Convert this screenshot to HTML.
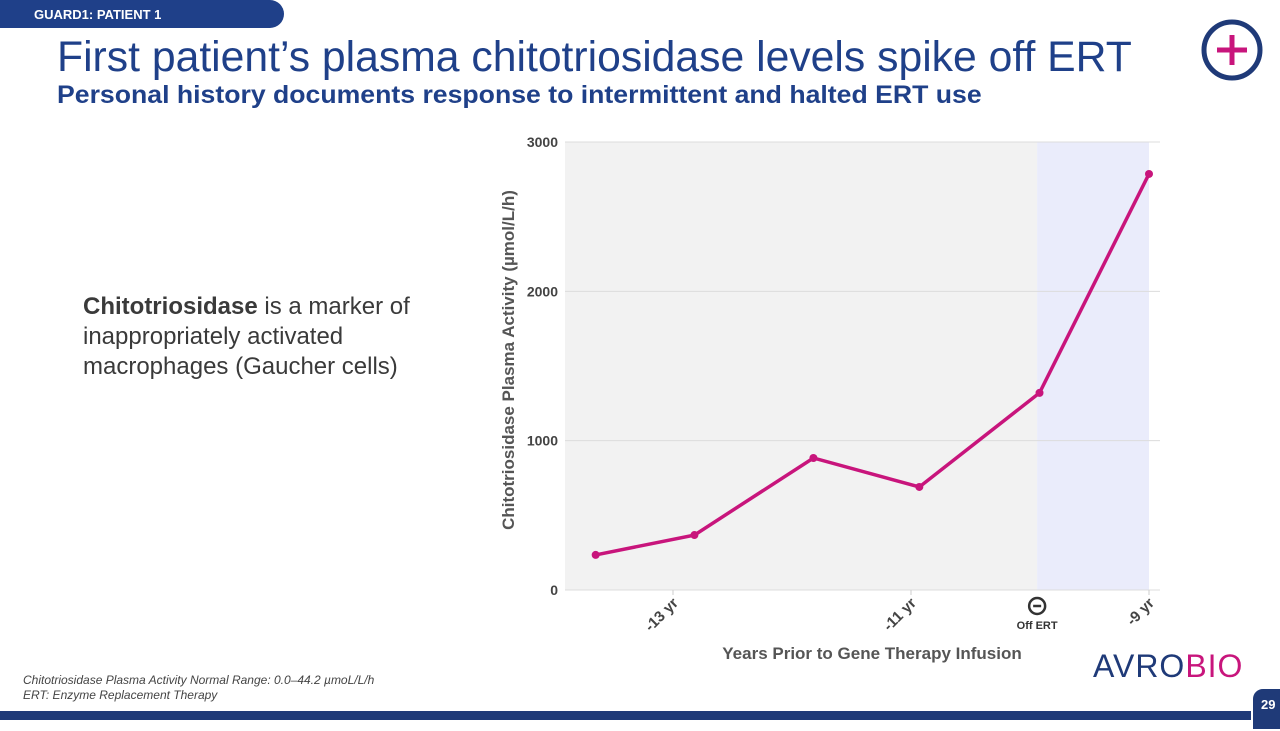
<!DOCTYPE html>
<html><head><meta charset="utf-8">
<style>
body{margin:0;width:1280px;height:720px;overflow:hidden;background:#fff;font-family:"Liberation Sans",Arial,sans-serif;position:relative}
.abs{position:absolute}
</style></head>
<body>
<div class="abs" style="left:0;top:0;width:284px;height:28px;background:#1f4089;border-radius:0 14px 14px 0;"></div>
<div class="abs" style="left:34px;top:7px;color:#fff;font-weight:bold;font-size:13px;">GUARD1: PATIENT 1</div>
<div class="abs" style="left:57px;top:33px;color:#1f4089;font-size:42.7px;white-space:nowrap;">First patient’s plasma chitotriosidase levels spike off ERT</div>
<div class="abs" style="left:57px;top:81px;color:#1f4089;font-size:25px;font-weight:bold;white-space:nowrap;transform:scaleX(1.065);transform-origin:left;">Personal history documents response to intermittent and halted ERT use</div>
<svg class="abs" style="left:1200px;top:18px" width="64" height="64"><circle cx="32" cy="32" r="28" fill="none" stroke="#1f3a78" stroke-width="5"/><path d="M32 17v30M17 32h30" stroke="#c8157c" stroke-width="5"/></svg>
<div class="abs" style="left:83px;top:292px;width:370px;color:#3a3a3a;font-size:24px;line-height:30px;"><b>Chitotriosidase</b> is a marker of inappropriately activated macrophages (Gaucher cells)</div>
<svg class="abs" id="chart" style="left:0;top:0" width="1280" height="720"></svg>
<div class="abs" style="left:23px;top:673px;color:#444;font-size:12px;font-style:italic;line-height:15px;">Chitotriosidase Plasma Activity Normal Range: 0.0–44.2 µmoL/L/h<br>ERT: Enzyme Replacement Therapy</div>
<div class="abs" style="left:1093px;top:648px;font-size:32px;letter-spacing:1px;"><span style="color:#1f3a78">AVRO</span><span style="color:#c8157c">BIO</span></div>
<div class="abs" style="left:0;top:711px;width:1280px;height:9px;background:#1f3a78;"></div>
<div class="abs" style="left:1251px;top:687px;width:36px;height:40px;border-radius:12px 0 0 0;background:#1f3a78;border:2px solid #fff;color:#fff;font-weight:bold;font-size:13px;"><span style="position:absolute;left:8px;top:8px">29</span></div>
<script>
const years=[-13.65,-12.82,-11.82,-10.93,-9.92,-9.0];
const values=[235,368,884,690,1320,2786];
const yTicks=[0,1000,2000,3000];
const xTicks=[-13,-11,-9];
const xTickLabels=["-13 yr","-11 yr","-9 yr"];
const offErtYear=-9.94;
const svg=document.getElementById('chart');const NS='http://www.w3.org/2000/svg';
const X=v=>673+(v+13)*119, Y=v=>590-v*0.14933;
function mk(t,a,p){const e=document.createElementNS(NS,t);for(const k in a)e.setAttribute(k,a[k]);(p||svg).appendChild(e);return e;}
let e=mk('rect',{x:565,y:142,width:X(offErtYear)-565,height:448,fill:'#f2f2f2'});

e=mk('rect',{x:X(offErtYear),y:142,width:X(-9)-X(offErtYear),height:448,fill:'#eaecfb'});

yTicks.forEach(t=>{
 e=mk('line',{x1:565,x2:1160,y1:Y(t),y2:Y(t),stroke:'#dcdcdc','stroke-width':1});
 
 e=mk('text',{x:558,y:Y(t)+5,'text-anchor':'end','font-size':14,'font-weight':'bold',fill:'#444'});e.textContent=t;
 
});
xTicks.forEach((t,i)=>{
 e=mk('line',{x1:X(t),x2:X(t),y1:590,y2:595,stroke:'#ccc'});
 
 e=mk('text',{x:X(t)+6,y:604,'text-anchor':'end','font-size':15,'font-weight':'bold',fill:'#444',transform:`rotate(-45 ${X(t)+6} 604)`});e.textContent=xTickLabels[i];
 
});
const ox=X(offErtYear);
e=mk('circle',{cx:ox,cy:606,r:8,fill:'none',stroke:'#333','stroke-width':2.5});

mk('line',{x1:ox-4,x2:ox+4,y1:606,y2:606,stroke:'#333','stroke-width':2.5});
e=mk('text',{x:ox,y:629,'text-anchor':'middle','font-size':11,'font-weight':'bold',fill:'#333'});e.textContent='Off ERT';

e=mk('polyline',{points:years.map((y,i)=>X(y)+','+Y(values[i])).join(' '),fill:'none',stroke:'#c8157c','stroke-width':3.5});

years.forEach((y,i)=>{e=mk('circle',{cx:X(y),cy:Y(values[i]),r:4,fill:'#c8157c'});
 });
e=mk('text',{x:872,y:659,'text-anchor':'middle','font-size':17,'font-weight':'bold',fill:'#555'});e.textContent='Years Prior to Gene Therapy Infusion';

e=mk('text',{x:514,y:360,'text-anchor':'middle','font-size':17,'font-weight':'bold',fill:'#555',transform:'rotate(-90 514 360)'});e.textContent='Chitotriosidase Plasma Activity (µmol/L/h)';

</script>
</body></html>
